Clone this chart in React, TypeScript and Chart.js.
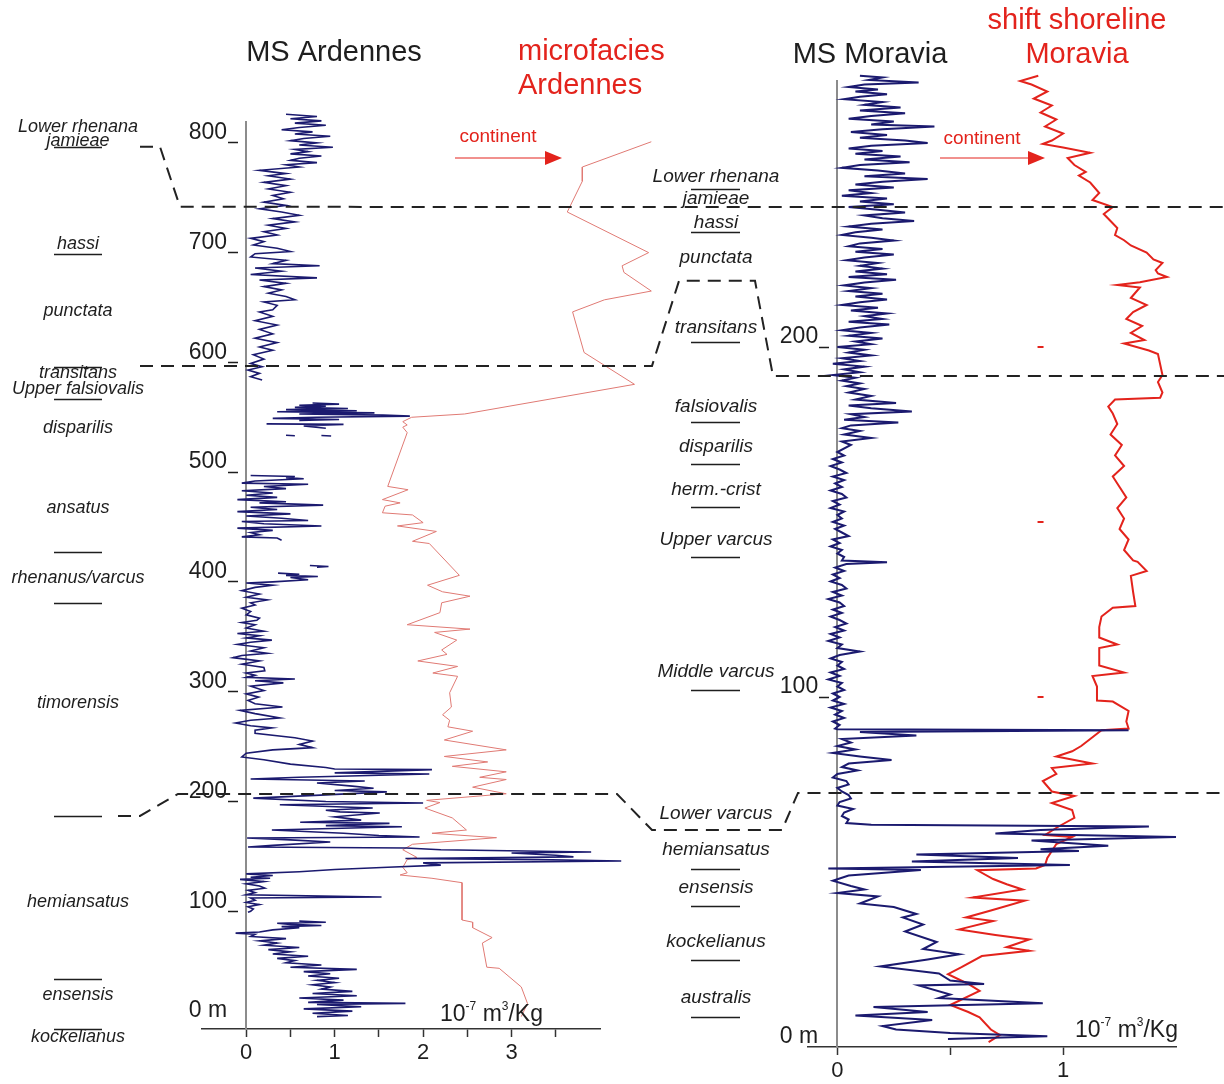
import React, { useEffect, useRef } from "react";
import { Chart, registerables } from "chart.js";

Chart.register(...registerables);

const W = 1224;
const H = 1084;
const FONT = '"Liberation Sans", Arial, sans-serif';
const NAVY = "#1b1a6f";
const RED = "#e3231c";
const PINK = "#e07a74";
const INK = "#1e1e1e";
const AXIS_GREY = "#8c8c8c";

// ---------- Ardennes: magnetic susceptibility [depth m, 10^-7 m3/kg]; null = gap ----------
const ardennesMS: ([number, number] | null)[] = [
  [826, 0.45], [824, 0.8], [822, 0.5], [820, 0.85], [818, 0.55], [816, 0.9], [814, 0.6], [812, 0.4], [810, 0.75],
  [808, 0.55], [806, 0.95], [804, 0.65], [802, 0.5], [800, 0.8], [798, 0.6], [796, 0.98], [794, 0.55], [792, 0.7],
  [790, 0.5], [788, 0.85], [786, 0.6], [784, 0.5], [782, 0.8], [780, 0.45], [778, 0.6], [775, 0.15], [772, 0.45],
  [770, 0.25], [767, 0.5], [764, 0.2], [761, 0.45], [758, 0.25], [755, 0.5], [752, 0.3], [749, 0.42], [746, 0.2],
  [743, 0.45], [740, 0.15], [737, 0.4], [734, 0.6], [731, 0.3], [728, 0.55], [725, 0.25], [722, 0.45], [719, 0.2],
  [716, 0.35], [713, 0.05], [710, 0.2], [707, 0.08], [704, 0.35], [701, 0.5], [699, 0.1], [696, 0.05], [693, 0.45],
  [690, 0.3], [688, 0.83], [686, 0.1], [683, 0.4], [680, 0.05], [677, 0.8], [675, 0.15], [672, 0.45], [669, 0.2],
  [666, 0.4], [663, 0.25], [660, 0.45], [657, 0.55], [655, 0.2], [652, 0.35], [648, 0.3], [646, 0.15], [642, 0.3],
  [638, 0.1], [634, 0.35], [630, 0.15], [626, 0.3], [622, 0.1], [618, 0.35], [614, 0.15], [611, 0.3], [607, 0.08],
  [603, 0.2], [599, 0.05], [596, 0.18], [593, 0.02], [590, 0.15], [587, 0.05], [584, 0.18],
  null,
  [563, 0.75], [562, 1.05], [561, 0.6], [560, 0.9], [559, 0.55], [558, 1.15], [557, 0.45], [556, 1.25], [555, 0.35],
  [554, 1.45], [553, 0.6], [552, 1.55], [551, 1.85], [550, 0.8], [549, 0.3], [548, 1.05], [547, 0.6],
  null,
  [544, 0.23], [543.5, 1.1], [542, 0.65], [540, 0.9],
  null,
  [533.6, 0.45], [533.2, 0.55],
  null,
  [533.4, 0.85], [533, 0.96],
  null,
  [497, 0.05], [496, 0.55], [495, 0.45], [494, 0.65], [492, 0.1], [490, -0.05], [489, 0.7], [487, 0.2], [485, 0.45],
  [483, -0.05], [481, 0.3], [479, 0.0], [477, 0.35], [475, -0.1], [473, 0.45], [472, 0.15], [470, 0.87], [468, 0.05],
  [466, 0.35], [464, -0.1], [462, 0.5], [460, 0.0], [458, 0.4], [456, 0.7], [455, -0.05], [453, 0.2], [451, 0.85],
  [449, -0.1], [447, 0.3], [445, 0.05], [443, 0.15], [441, -0.05], [440, 0.35], [438, 0.4],
  null,
  [415, 0.72], [414, 0.93], [413.5, 0.8],
  null,
  [408, 0.36], [407, 0.6], [406, 0.45], [405, 0.81], [404, 0.5], [402, 0.7], [400, 0.3], [399, 0.0], [397, 0.3],
  [395, 0.1], [392, -0.05], [389, 0.15], [386, 0.0], [383.6, 0.24], [381, 0.05], [379, 0.1], [376, -0.05], [373, 0.05],
  [370, 0.0], [367, 0.15], [365, 0.12], [363, -0.05], [361, 0.1], [358, 0.0], [355, 0.2], [353, -0.1], [351, 0.15],
  [349, 0.0], [347, 0.29], [345, 0.05], [343, -0.1], [340, 0.2], [337, 0.05], [335, 0.24], [333, -0.05], [331, -0.15],
  [328, 0.15], [325, -0.05], [322, 0.2], [319, 0.21], [317, 0.0], [315, 0.1], [313, 0.0], [311.6, 0.55], [310, 0.1],
  [308, 0.42], [305, 0.05], [301, 0.2], [298, 0.0], [295, 0.14], [292, 0.02], [289, 0.1], [286, 0.41], [283, -0.07],
  [280, 0.1], [276, 0.38], [274, 0.05], [271.5, -0.12], [269, 0.05], [267, 0.29], [265, 0.1], [262, 0.1], [258, 0.55],
  [255, 0.75], [252, 0.6], [249, 0.75], [247, 0.3], [244, 0.0], [240.5, -0.05], [238, 0.2], [234, 0.5], [231, 0.9],
  [229.5, 1.0], [229, 2.1], [226, 1.0], [225, 2.07], [222, 0.6], [220.5, 0.05], [218.7, 1.34], [216.8, 0.8], [214, 1.2],
  [212, 1.44], [210, 1.0], [208.7, 1.59], [206, 0.9], [203, 0.08], [200, 0.9], [198.6, 2.0], [197, 0.38], [195, 1.1],
  [194, 1.43], [192, 0.9], [190.5, 1.06], [189.5, 1.51], [186, 1.0], [183, 1.3], [181, 0.61], [180, 1.62], [178, 0.9],
  [177, 1.76], [174, 0.29], [171, 1.1], [169, 1.5], [167.6, 1.96], [166.7, 0.01], [165, 0.5], [163, 0.95], [160, 0.3],
  [158.5, 0.02], [157.6, 1.81], [156, 2.2], [154, 3.9], [153, 3.0], [151, 3.5], [149.5, 3.7], [148, 1.8], [147, 3.3],
  [145.8, 4.24], [144, 2.0], [142, 2.2], [140, 1.6], [138, 1.0], [136, 0.6], [134, 0.0], [132.5, 0.3], [131, 0.05],
  [130, 0.27], [129, -0.07], [127, 0.2], [125, 0.0], [123, 0.15], [121, 0.21], [119, 0.02], [117, 0.1], [115, 0.0],
  [113, 1.53], [112, 0.05], [110, 0.1], [108, 0.0], [106, 0.15], [104, 0.02], [102, 0.08], [100, 0.05], [99, 0.02],
  null,
  [91, 0.6], [90, 0.9], [89, 0.35], [88, 0.5], [87, 0.85], [86, 0.4], [85, 0.6], [83, 0.3], [81, 0.15], [80, -0.12],
  [79, 0.1], [77, 0.05], [75, 0.45], [73, 0.15], [71, 0.35], [69, 0.2], [67, 0.6], [65, 0.25], [63, 0.5], [61, 0.3],
  [59, 0.7], [57, 0.35], [55, 0.55], [53, 0.45], [51, 0.85], [49, 0.5], [47, 1.25], [45, 0.65], [43, 0.95], [41, 0.7],
  [39, 1.05], [37, 0.8], [35, 1.0], [33, 0.75], [31, 0.95], [29, 0.85], [27, 1.2], [25, 0.75], [23, 1.25], [21, 0.6],
  [19, 1.1], [17, 0.7], [16, 1.8], [15, 0.8], [13, 1.3], [11, 0.65], [9, 1.2], [7, 0.75], [5, 1.15], [4, 0.8],
];

// ---------- Ardennes microfacies curve [depth m, relative position (continent to the right)] ----------
const microfaciesArdennes: [number, number][] = [
  [801, 4.58], [778, 3.8], [765, 3.8], [737, 3.63], [700, 4.55], [688, 4.25], [682, 4.27], [665, 4.58], [657, 4.05],
  [646, 3.69], [609, 3.82], [580, 4.39], [553, 2.47], [550, 1.87], [546, 1.77], [543, 1.82], [541, 1.77], [536, 1.82],
  [487, 1.6], [484, 1.83], [475, 1.54], [472, 1.74], [469, 1.57], [463, 1.54], [461, 1.88], [454, 2.0], [451, 1.71],
  [446, 2.15], [437, 1.88], [435, 2.07], [406, 2.41], [397, 2.05], [391, 2.22], [387, 2.53], [381, 2.21], [372, 2.19],
  [361, 1.82], [357, 2.53], [354, 2.13], [347, 2.38], [338, 2.21], [334, 2.27], [328, 1.94], [323, 2.39], [317, 2.11],
  [314, 2.39], [299, 2.3], [286, 2.32], [279, 2.22], [274, 2.3], [268, 2.28], [264, 2.56], [256, 2.24], [247, 2.94],
  [241, 2.24], [236, 2.73], [232, 2.33], [227, 2.94], [222, 2.64], [220, 2.94], [213, 2.56], [207, 2.94], [201, 2.04],
  [199, 2.19], [194, 2.02], [185, 2.33], [174, 2.49], [171, 2.1], [167, 2.83], [161, 1.88], [156, 1.77], [149, 1.93],
  [147, 1.82], [140, 1.77], [135, 1.82], [133, 1.74], [130, 2.1], [126, 2.44], [92, 2.44], [90, 2.56], [85, 2.56],
  [76, 2.78], [71, 2.67], [49, 2.72], [48, 2.86], [31, 3.11], [16, 3.18], [4, 3.11],
];

// ---------- Moravia: magnetic susceptibility [depth m, 10^-7 m3/kg] ----------
const moraviaMS: [number, number][] = [
  [277.5, 0.1], [277, 0.2], [276.3, 0.14], [275.6, 0.36], [275, 0.12], [274.3, 0.05], [273.6, 0.18], [273, 0.08],
  [272.2, 0.22], [271.5, 0.1], [270.8, 0.03], [270, 0.2], [269.2, 0.12], [268.4, 0.28], [267.6, 0.1], [266.8, 0.3],
  [266, 0.15], [265.2, 0.05], [264.4, 0.25], [263.6, 0.15], [263, 0.43], [262.2, 0.2], [261.4, 0.06], [260.6, 0.22],
  [259.8, 0.1], [259, 0.3], [258.3, 0.4], [257.5, 0.15], [256.7, 0.05], [256, 0.2], [255.2, 0.08], [254.4, 0.28],
  [253.6, 0.12], [252.8, 0.32], [252, 0.1], [251.2, 0.02], [250.4, 0.18], [249.6, 0.3], [248.8, 0.12], [248, 0.4],
  [247.2, 0.2], [246.4, 0.08], [245.6, 0.25], [244.8, 0.05], [244, 0.15], [243.2, 0.02], [242.4, 0.22], [241.6, 0.1],
  [240.8, 0.25], [240, 0.05], [239.2, 0.18], [238.4, 0.3], [237.6, 0.12], [236.8, 0.2], [236, 0.34], [235.2, 0.15],
  [234.4, 0.05], [233.6, 0.2], [232.8, 0.08], [232, 0.02], [231.2, 0.15], [230.4, 0.25], [229.6, 0.1], [228.8, 0.05],
  [228, 0.2], [227.2, 0.08], [226.4, 0.25], [225.6, 0.12], [224.8, 0.04], [224, 0.18], [223.2, 0.1], [222.4, 0.2],
  [221.6, 0.08], [220.8, 0.22], [220, 0.05], [219.2, 0.26], [218.4, 0.12], [217.6, 0.03], [216.8, 0.15], [216, 0.05],
  [215.2, 0.2], [214.4, 0.08], [213.6, 0.22], [212.8, 0.1], [212, 0.02], [211.2, 0.18], [210.4, 0.06], [209.6, 0.22],
  [208.8, 0.12], [208, 0.2], [207.2, 0.05], [206.4, 0.23], [205.6, 0.1], [204.8, 0.02], [204, 0.15], [203.2, 0.05],
  [202.4, 0.2], [201.6, 0.08], [200.8, 0.15], [200, 0.0], [199.2, 0.12], [198.4, 0.05], [197.6, 0.15], [196.8, 0.02],
  [196, 0.1], [195.2, -0.02], [194.4, 0.12], [193.6, 0.03], [192.8, 0.1], [192, -0.02], [191.2, 0.08], [190.4, 0.02],
  [189.6, 0.1], [188.8, 0.04], [188, 0.12], [187, 0.05], [186, 0.15], [185, 0.08], [184, 0.26], [183.3, 0.05],
  [182.5, 0.15], [181.6, 0.33], [180.8, 0.06], [180, 0.12], [179.2, 0.03], [178.4, 0.27], [177.6, 0.06], [176.8, 0.02],
  [176, 0.1], [175, 0.03], [174, 0.15], [173, 0.02], [172, 0.06], [170, 0.0], [169, 0.03], [168, -0.02], [167, 0.02],
  [166, -0.03], [165, 0.01], [164, 0.04], [163, -0.02], [162, 0.03], [161, -0.01], [160, 0.02], [159, -0.03],
  [158, 0.02], [157, 0.04], [156, -0.02], [155, 0.01], [154, -0.03], [153, 0.03], [152, 0.0], [151, 0.02],
  [150, -0.02], [149, 0.03], [148, -0.01], [147, 0.02], [146, 0.05], [145, -0.02], [144, 0.01], [143, -0.03],
  [142, 0.02], [141, 0.0], [140, 0.03], [139, 0.02], [138.5, 0.22], [138, 0.04], [137, -0.01], [136, 0.03],
  [135, -0.02], [134, 0.01], [133, -0.03], [132, 0.02], [131, 0.04], [130, -0.02], [129, 0.02], [128, -0.04],
  [127, 0.01], [126, 0.03], [125, -0.02], [124, 0.02], [123, -0.03], [122, 0.01], [121, 0.04], [120, -0.01],
  [119, 0.03], [118, -0.03], [117, 0.01], [116, -0.04], [115, 0.02], [114, 0.0], [113, 0.1], [112, 0.01],
  [111, -0.03], [110, 0.02], [109, 0.0], [108, 0.03], [107, -0.03], [106, 0.01], [105, -0.04], [104, 0.02],
  [103, 0.0], [102, 0.03], [101, -0.02], [100, 0.01], [99, -0.02], [98, 0.03], [97, -0.03], [96, 0.02], [95, -0.01],
  [94, 0.03], [93, -0.02], [92, 0.01], [91, -0.01], [90.8, 0.0], [90.5, 1.29], [90, 0.1], [89, 0.35], [88, 0.02],
  [87, 0.06], [86, 0.0], [85, 0.08], [84, -0.02], [83, 0.1], [82, 0.24], [81, 0.05], [80, 0.02], [79, 0.09],
  [78, 0.0], [77, -0.02], [76, 0.04], [75, 0.05], [74, 0.0], [73, 0.02], [72, 0.05], [71, 0.06], [70, 0.01],
  [69, 0.0], [68, 0.07], [67, 0.03], [66, 0.02], [65, 0.05], [64, 0.04], [63.5, 0.15], [63, 1.38], [62, 0.9],
  [61, 0.7], [60, 1.5], [59, 0.86], [57.5, 1.2], [56.5, 0.9], [56, 1.07], [55, 0.35], [54, 0.8], [53, 0.33],
  [52, 1.03], [51, -0.04], [50.6, 0.37], [49, 0.05], [47.5, -0.02], [46, 0.06], [45, 0.12], [44, 0.0], [43, 0.18],
  [41, 0.1], [40, 0.25], [38, 0.35], [37, 0.29], [35, 0.38], [33, 0.3], [30, 0.44], [28, 0.38], [26.5, 0.54],
  [25, 0.4], [23, 0.19], [21, 0.45], [19, 0.5], [18, 0.65], [17.6, 0.36], [15, 0.5], [14, 0.45], [12.5, 0.91],
  [11.4, 0.16], [10, 0.4], [9, 0.08], [7.7, 0.42], [6, 0.2], [5, 0.26], [4, 0.5], [3.1, 0.93], [2.3, 0.49],
];

// ---------- Moravia: shift of shoreline [depth m, relative position] ----------
const moraviaShoreline: [number, number][] = [
  [277.5, 0.89], [276, 0.81], [275, 0.86], [273, 0.93], [271, 0.87], [269, 0.95], [267, 0.9], [265, 0.97], [263, 0.92],
  [261, 1.0], [259, 0.95], [258, 0.91], [257, 1.0], [255.5, 1.12], [254, 1.02], [252, 1.05], [250, 1.1], [249, 1.07],
  [247, 1.12], [244, 1.16], [242, 1.13], [240, 1.22], [238, 1.18], [236, 1.21], [234, 1.24], [232, 1.23],
  [230.5, 1.27], [229, 1.3], [227, 1.37], [225, 1.4], [224, 1.44], [222, 1.41], [221, 1.42], [220, 1.46],
  [218.5, 1.34], [217.7, 1.24], [217, 1.34], [214, 1.3], [212, 1.37], [210, 1.31], [208, 1.28], [206, 1.35],
  [204, 1.3], [202, 1.36], [201, 1.27], [199, 1.38], [198, 1.42], [195, 1.43], [192, 1.44], [190, 1.42], [187, 1.44],
  [185.5, 1.43], [185, 1.23], [183, 1.2], [181, 1.22], [178, 1.24], [175, 1.21], [172, 1.26], [169, 1.23],
  [166, 1.27], [163, 1.22], [160, 1.25], [157, 1.28], [154, 1.24], [151, 1.27], [148, 1.25], [145, 1.29],
  [142, 1.27], [139, 1.31], [138.6, 1.33], [136, 1.37], [134.6, 1.3], [130, 1.31], [126, 1.32], [125.5, 1.22],
  [123, 1.17], [120, 1.16], [117, 1.16], [115, 1.24], [114, 1.16], [111, 1.16], [109, 1.16], [107, 1.27],
  [106, 1.13], [103, 1.15], [99, 1.15], [98.7, 1.22], [96, 1.29], [93, 1.28], [91, 1.29], [90.5, 1.17], [88, 1.12],
  [86, 1.08], [84.5, 1.04], [83, 0.97], [81, 1.13], [79.7, 0.95], [78, 0.97], [76, 0.91], [73, 0.95], [71.7, 1.05],
  [69.7, 0.95], [67.7, 1.04], [65.5, 1.05], [63, 0.98], [60.6, 0.92], [60, 1.04], [58, 0.97], [56, 0.95],
  [54, 0.93], [52, 0.92], [51, 0.88], [50.5, 0.62], [48, 0.69], [46.5, 0.75], [45, 0.82], [42.7, 0.6], [41.8, 0.83],
  [39, 0.68], [37, 0.57], [36, 0.69], [33.6, 0.54], [32, 0.7], [30.7, 0.85], [28.5, 0.75], [27.5, 0.85], [26, 0.64],
  [22.8, 0.55], [20.8, 0.49], [18, 0.58], [16, 0.63], [12, 0.5], [10, 0.58], [8.5, 0.63], [5, 0.68], [3.4, 0.72],
  [1.4, 0.67],
];
// small red reference marks of the shoreline column
const shorelineMarkDepth = [200, 150, 100];
const shorelineMarkValue = [0.9, 0.9, 0.9];

// ---------- ticks ----------
const ardDepthTicks = [0, 100, 200, 300, 400, 500, 600, 700, 800];
const ardMSTicks = [0, 0.5, 1, 1.5, 2, 2.5, 3, 3.5];
const morDepthTicks = [0, 100, 200];
const morMSTicks = [0, 0.5, 1];

// ---------- biozones (label, depth in that section) ----------
const ardZoneNames = [
  "Lower rhenana", "jamieae", "hassi", "punctata", "transitans", "Upper falsiovalis", "disparilis", "ansatus",
  "rhenanus/varcus", "timorensis", "hemiansatus", "ensensis", "kockelianus",
];
const ardZoneDepths = [814.6, 801.8, 708, 647, 590.4, 575.9, 540.3, 467.4, 403.6, 289.7, 108.4, 23.7, -14.6];
const ardZoneBounds = [796.4, 698.9, 595.9, 566.7, 427.3, 380.9, 186.8, 38.3, -7.3];

const morZoneNames = [
  "Lower rhenana", "jamieae", "hassi", "punctata", "transitans", "falsiovalis", "disparilis", "herm.-crist",
  "Upper varcus", "Middle varcus", "Lower varcus", "hemiansatus", "ensensis", "kockelianus", "australis",
];
const morZoneDepths = [248.6, 242.3, 235.4, 225.4, 205.4, 182.9, 171.4, 159.1, 144.9, 107.1, 66.6, 56.3, 45.4, 30, 14];
const morZoneBounds = [245.1, 232.9, 201.4, 178.6, 166.6, 154.3, 140, 102, 50.9, 40.3, 24.9, 8.6];

// correlation lines: x = page column, a = Ardennes depth, b = Moravia depth
type V = { x: number; a?: number; b?: number };
const correlationLines: V[][] = [
  [{ x: 140, a: 796.4 }, { x: 160, a: 796.4 }, { x: 180, a: 741.7 }, { x: 1224, b: 240 }],
  [{ x: 140, a: 596.8 }, { x: 652, a: 596.8 }, { x: 679, b: 218.9 }, { x: 755, b: 218.9 }, { x: 773, b: 191.7 }, { x: 1224, b: 191.7 }],
  [{ x: 118, a: 186.8 }, { x: 140, a: 186.8 }, { x: 178, a: 206.8 }, { x: 617, a: 206.8 }, { x: 652, b: 62 }, { x: 782, b: 62 }, { x: 798, b: 72.6 }, { x: 1224, b: 72.6 }],
];

const toPts = (arr: ([number, number] | null)[]) =>
  arr.map((p) => (p ? { x: p[1], y: p[0] } : { x: null as any, y: null as any }));

function drawText(ctx: CanvasRenderingContext2D, text: string, x: number, y: number, font: string, color: string, align: CanvasTextAlign = "center") {
  ctx.font = font;
  ctx.fillStyle = color;
  ctx.textAlign = align;
  ctx.textBaseline = "middle";
  ctx.fillText(text, x, y);
}

function drawUnit(ctx: CanvasRenderingContext2D, x: number, baseline: number) {
  const big = `23px ${FONT}`;
  const small = `12px ${FONT}`;
  ctx.fillStyle = INK;
  ctx.textAlign = "left";
  ctx.textBaseline = "alphabetic";
  const parts: [string, string, number][] = [
    ["10", big, 0], ["-7", small, -11], [" m", big, 0], ["3", small, -11], ["/Kg", big, 0],
  ];
  let cx = x;
  for (const [t, f, dy] of parts) {
    ctx.font = f;
    ctx.fillText(t, cx, baseline + dy);
    cx += ctx.measureText(t).width;
  }
}

function drawArrow(ctx: CanvasRenderingContext2D, x0: number, x1: number, y: number) {
  ctx.save();
  ctx.strokeStyle = RED;
  ctx.fillStyle = RED;
  ctx.lineWidth = 1;
  ctx.beginPath();
  ctx.moveTo(x0, y);
  ctx.lineTo(x1 - 14, y);
  ctx.stroke();
  ctx.beginPath();
  ctx.moveTo(x1 - 17, y - 7);
  ctx.lineTo(x1, y);
  ctx.lineTo(x1 - 17, y + 7);
  ctx.closePath();
  ctx.fill();
  ctx.restore();
}

export default function App() {
  const aRef = useRef<HTMLCanvasElement>(null);
  const bRef = useRef<HTMLCanvasElement>(null);

  useEffect(() => {
    if (!aRef.current || !bRef.current) return;

    const yAxisCommon = (ticks: number[], min: number, max: number) => ({
      type: "linear" as const,
      position: { x: 0 } as any,
      min,
      max,
      afterBuildTicks: (s: any) => {
        s.ticks = ticks.map((v) => ({ value: v }));
      },
      ticks: {
        // trailing spaces keep the label clear of the tick mark (axis sits inside the plot)
        callback: (v: any) => (Number(v) === 0 ? "0 m   " : String(v) + "   "),
        font: { family: FONT, size: 23 },
        color: INK,
        padding: 4,
        labelOffset: -10,
        autoSkip: false,
      },
      grid: {
        drawOnChartArea: false,
        drawTicks: true,
        tickLength: 17,
        tickBorderDash: [0, 7, 10, 100],
        tickColor: (c: any) => (c.tick && c.tick.value === 0 ? "rgba(0,0,0,0)" : INK),
        tickWidth: 1.5,
      },
      border: { display: true, color: AXIS_GREY, width: 2 },
    });

    const xAxisCommon = (ticks: number[], min: number, max: number, h: number) => ({
      type: "linear" as const,
      position: "bottom" as const,
      min,
      max,
      afterBuildTicks: (s: any) => {
        s.ticks = ticks.map((v) => ({ value: v }));
      },
      afterFit: (s: any) => {
        s.height = h;
      },
      ticks: {
        callback: (v: any) => (Number.isInteger(Number(v)) ? String(v) : ""),
        font: { family: FONT, size: 22 },
        color: INK,
        padding: 3,
        maxRotation: 0,
        autoSkip: false,
      },
      grid: { drawOnChartArea: false, drawTicks: true, tickLength: 8, tickColor: "#333", tickWidth: 1.5 },
      border: { display: true, color: "#333", width: 1.5 },
    });

    const chartA = new Chart(aRef.current, {
      type: "line",
      data: {
        datasets: [
          {
            label: "MS Ardennes",
            data: toPts(ardennesMS),
            borderColor: NAVY,
            borderWidth: 1.6,
            pointRadius: 0,
            tension: 0,
            spanGaps: false,
            clip: false as any,
            xAxisID: "x",
            yAxisID: "y",
          },
          {
            label: "microfacies Ardennes",
            data: toPts(microfaciesArdennes),
            borderColor: PINK,
            borderWidth: 1,
            pointRadius: 0,
            tension: 0,
            clip: false as any,
            xAxisID: "xMf",
            yAxisID: "y",
          },
        ],
      },
      options: {
        responsive: false,
        animation: false,
        events: [],
        layout: { padding: { left: 202, right: W - 600, top: 122, bottom: H - 1029 - 40 } },
        plugins: { legend: { display: false }, tooltip: { enabled: false }, title: { display: false } },
        scales: {
          x: xAxisCommon(ardMSTicks, -0.5, 4, 40) as any,
          xMf: { type: "linear", display: false, min: -0.5, max: 4 },
          y: yAxisCommon(ardDepthTicks, -7.3, 819) as any,
        },
      },
    });

    const annotations = {
      id: "annotations",
      afterDraw(chart: any) {
        const ctx: CanvasRenderingContext2D = chart.ctx;
        const yA = chartA.scales.y;
        const yB = chart.scales.y;
        ctx.save();

        // titles
        drawText(ctx, "MS Ardennes", 334, 53, `29px ${FONT}`, INK);
        drawText(ctx, "microfacies", 518, 52, `29px ${FONT}`, RED, "left");
        drawText(ctx, "Ardennes", 518, 86, `29px ${FONT}`, RED, "left");
        drawText(ctx, "MS Moravia", 870, 55, `29px ${FONT}`, INK);
        drawText(ctx, "shift shoreline", 1077, 21, `29px ${FONT}`, RED);
        drawText(ctx, "Moravia", 1077, 55, `29px ${FONT}`, RED);

        // continent arrows
        drawText(ctx, "continent", 498, 137, `19px ${FONT}`, RED);
        drawArrow(ctx, 455, 562, 158);
        drawText(ctx, "continent", 982, 139, `19px ${FONT}`, RED);
        drawArrow(ctx, 940, 1045, 158);

        // units
        drawUnit(ctx, 440, 1021);
        drawUnit(ctx, 1075, 1037);

        // zone labels
        ardZoneNames.forEach((n, i) =>
          drawText(ctx, n, 78, yA.getPixelForValue(ardZoneDepths[i]), `italic 18px ${FONT}`, INK)
        );
        morZoneNames.forEach((n, i) =>
          drawText(ctx, n, 716, yB.getPixelForValue(morZoneDepths[i]), `italic 19px ${FONT}`, INK)
        );

        // zone boundary bars
        ctx.strokeStyle = INK;
        ctx.lineWidth = 1.5;
        ctx.setLineDash([]);
        ardZoneBounds.forEach((d) => {
          const y = Math.round(yA.getPixelForValue(d)) + 0.5;
          ctx.beginPath();
          ctx.moveTo(54, y);
          ctx.lineTo(102, y);
          ctx.stroke();
        });
        morZoneBounds.forEach((d) => {
          const y = Math.round(yB.getPixelForValue(d)) + 0.5;
          ctx.beginPath();
          ctx.moveTo(691, y);
          ctx.lineTo(740, y);
          ctx.stroke();
        });

        // correlation lines
        ctx.strokeStyle = "#222";
        ctx.lineWidth = 2;
        ctx.setLineDash([13, 8]);
        correlationLines.forEach((line) => {
          ctx.beginPath();
          line.forEach((v, i) => {
            const y = v.a !== undefined ? yA.getPixelForValue(v.a) : yB.getPixelForValue(v.b as number);
            if (i === 0) ctx.moveTo(v.x, y);
            else ctx.lineTo(v.x, y);
          });
          ctx.stroke();
        });
        ctx.restore();
      },
    };

    const chartB = new Chart(bRef.current, {
      type: "line",
      data: {
        datasets: [
          {
            label: "MS Moravia",
            data: toPts(moraviaMS),
            borderColor: NAVY,
            borderWidth: 2,
            pointRadius: 0,
            tension: 0,
            clip: false as any,
            xAxisID: "x",
            yAxisID: "y",
          },
          {
            label: "shift shoreline Moravia",
            data: toPts(moraviaShoreline),
            borderColor: RED,
            borderWidth: 2,
            pointRadius: 0,
            tension: 0,
            clip: false as any,
            xAxisID: "xShore",
            yAxisID: "y",
          },
          {
            label: "shoreline marks",
            data: shorelineMarkDepth.map((d, i) => ({ x: shorelineMarkValue[i], y: d })),
            showLine: false,
            pointStyle: "line",
            pointRadius: 3,
            borderColor: RED,
            borderWidth: 2,
            xAxisID: "xShore",
            yAxisID: "y",
          },
        ],
      },
      options: {
        responsive: false,
        animation: false,
        events: [],
        layout: { padding: { left: 808, right: W - 1176, top: 81, bottom: H - 1047 - 30 } },
        plugins: { legend: { display: false }, tooltip: { enabled: false }, title: { display: false } },
        scales: {
          x: xAxisCommon(morMSTicks, -0.13, 1.5, 30) as any,
          xShore: { type: "linear", display: false, min: -0.13, max: 1.5 },
          y: yAxisCommon(morDepthTicks, 0, 276) as any,
        },
      },
      plugins: [annotations],
    });

    return () => {
      chartB.destroy();
      chartA.destroy();
    };
  }, []);

  return (
    <div style={{ position: "absolute", left: 0, top: 0, width: W, height: H, background: "#ffffff" }}>
      <canvas ref={aRef} width={W} height={H} style={{ position: "absolute", left: 0, top: 0 }} />
      <canvas ref={bRef} width={W} height={H} style={{ position: "absolute", left: 0, top: 0 }} />
    </div>
  );
}
